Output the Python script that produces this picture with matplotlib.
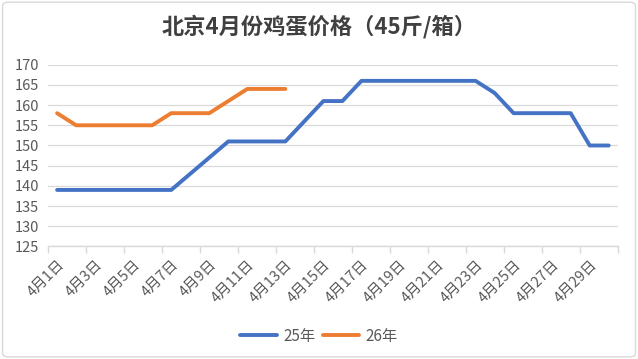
import numpy as np
import matplotlib
matplotlib.use('Agg')
import matplotlib.pyplot as plt
from matplotlib.patches import FancyBboxPatch

plt.rcParams['font.family'] = ['Noto Sans CJK SC', 'DejaVu Sans']

days = [f'4月{d}日' for d in range(1, 31)]
price_25 = [139, 139, 139, 139, 139, 139, 139, 143, 147, 151,
            151, 151, 151, 156, 161, 161, 166, 166, 166, 166,
            166, 166, 166, 163, 158, 158, 158, 158, 150, 150]
price_26 = [158, 155, 155, 155, 155, 155, 158, 158, 158, 161,
            164, 164, 164]
series_names = ['25年', '26年']
title = '北京4月份鸡蛋价格（45斤/箱）'

grey = '#595959'
fig = plt.figure(figsize=(6.38, 3.59), dpi=100)
ax = fig.add_axes([0.0746, 0.3134, 0.8944, 0.5064])

x = np.arange(len(days))
ax.plot(x, price_25, color='#4472C4', lw=2.8, label=series_names[0],
        solid_capstyle='round', solid_joinstyle='round')
ax.plot(x[:len(price_26)], price_26, color='#ED7D31', lw=2.8,
        label=series_names[1], solid_capstyle='round', solid_joinstyle='round')

ax.set_xlim(-0.5, len(days) - 0.5)
ax.set_ylim(125, 170)
ax.set_yticks(np.arange(125, 171, 5))
ax.yaxis.grid(True, color='#d9d9d9', lw=0.9)
ax.set_axisbelow(True)
for s in ['left', 'right', 'top']:
    ax.spines[s].set_visible(False)
ax.spines['bottom'].set_color('#d9d9d9')
ax.spines['bottom'].set_linewidth(1.0)

ax.set_xticks(x[::2])
ax.set_xticklabels(days[::2], rotation=45, ha='right', rotation_mode='anchor')
ax.set_xticks(np.arange(-0.5, len(days), 2), minor=True)
ax.tick_params(axis='x', which='major', length=0, pad=8, labelsize=10.5, labelcolor=grey)
ax.tick_params(axis='x', which='minor', length=5, color='#d9d9d9', width=1.0)
ax.tick_params(axis='y', length=0, labelsize=10.5, labelcolor=grey, pad=6)

fig.text(0.5, 0.925, title, ha='center', va='center', fontsize=16,
         fontweight='bold', color='#404040')

fig.legend(loc='center', bbox_to_anchor=(0.5, 0.064), ncol=2, frameon=False,
           fontsize=11, labelcolor=grey, handlelength=2.4, columnspacing=0.5,
           handletextpad=0.4)

fig.patches.append(FancyBboxPatch((0.004, 0.006), 0.992, 0.988,
                                  boxstyle='round,pad=0,rounding_size=0.01',
                                  transform=fig.transFigure, fill=False,
                                  edgecolor='#d9d9d9', lw=1.0))

fig.savefig('out.png', dpi=100)
